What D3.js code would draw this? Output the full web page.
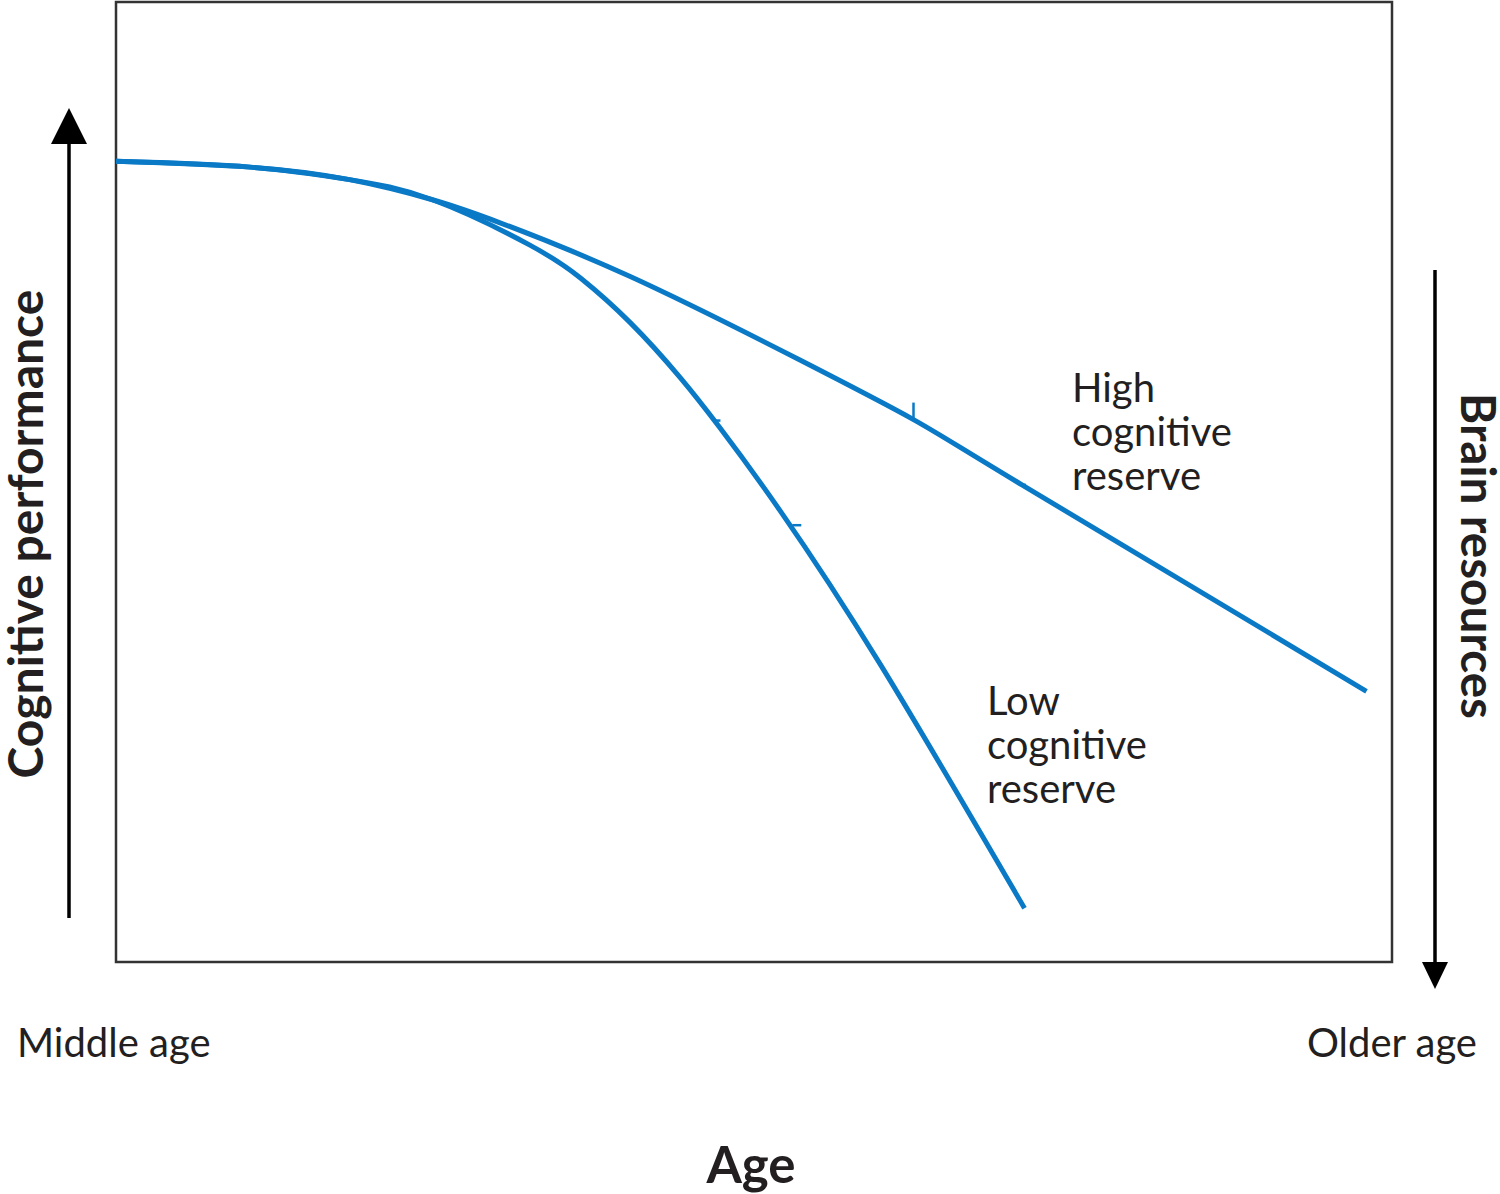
<!DOCTYPE html>
<html><head><meta charset="utf-8">
<script src="https://cdn.jsdelivr.net/npm/d3@7"></script>
<style>html,body{margin:0;padding:0;background:#fff;}svg{display:block;}</style>
</head><body>
<script>
// ---- data (abstract units: age 0..100, performance 0..100) ----
const highAge  = [0, 10.5, 18.3, 24.8, 30.1, 40.3, 53.6, 62.5, 71.0, 98.0];
const highPerf = [83.4, 82.8, 81.5, 79.4, 77.0, 71.4, 62.7, 56.5, 49.7, 28.2];
const lowAge   = [0, 10.5, 18.3, 24.8, 32.4, 36.4, 40.3, 44.2, 47.3, 52.0, 59.9, 71.2];
const lowPerf  = [83.4, 82.8, 81.5, 79.4, 74.7, 71.25, 66.6, 60.9, 55.7, 47.1, 31.0, 5.6];
const highLabel = ["High", "cognitive", "reserve"];
const lowLabel  = ["Low", "cognitive", "reserve"];
const xEndLabels = ["Middle age", "Older age"];
const xTitle = "Age";
const yTitle = "Cognitive performance";
const y2Title = "Brain resources";
// small marks on the curves: [age, perf]
const highMarks = [[62.5, 56.5], [71.0, 49.7]];
const lowMarks  = [[46.9, 56.4], [53.0, 45.5]];

const W = 1500, H = 1194;
const frame = {left: 116, right: 1392, top: 2, bottom: 962};
const blue = "#0a79c6";
const ink = "#231f20";

const svg = d3.select("body").append("svg").attr("width", W).attr("height", H);

const x = d3.scaleLinear().domain([0, 100]).range([frame.left, frame.right]);
const y = d3.scaleLinear().domain([0, 100]).range([frame.bottom, frame.top]);

// frame
svg.append("rect")
  .attr("x", frame.left).attr("y", frame.top)
  .attr("width", frame.right - frame.left).attr("height", frame.bottom - frame.top)
  .attr("fill", "none").attr("stroke", "#333").attr("stroke-width", 2.5);

const line = d3.line().x(d => x(d[0])).y(d => y(d[1])).curve(d3.curveNatural);

const high = highAge.map((a, i) => [a, highPerf[i]]);
const low = lowAge.map((a, i) => [a, lowPerf[i]]);

svg.append("path").datum(low).attr("d", line)
  .attr("fill", "none").attr("stroke", blue).attr("stroke-width", 5);
svg.append("path").datum(high).attr("d", line)
  .attr("fill", "none").attr("stroke", blue).attr("stroke-width", 5);

// tiny marks
svg.append("line").attr("x1", x(highMarks[0][0])).attr("x2", x(highMarks[0][0]))
  .attr("y1", y(highMarks[0][1]) - 17).attr("y2", y(highMarks[0][1]))
  .attr("stroke", blue).attr("stroke-width", 2.5);
svg.append("line").attr("x1", x(highMarks[1][0])).attr("x2", x(highMarks[1][0]) + 4)
  .attr("y1", y(highMarks[1][1])).attr("y2", y(highMarks[1][1]))
  .attr("stroke", blue).attr("stroke-width", 2.5);
lowMarks.forEach((m, i) => {
  svg.append("line").attr("x1", x(m[0])).attr("x2", x(m[0]) + (i === 0 ? 6 : 9))
    .attr("y1", y(m[1])).attr("y2", y(m[1]))
    .attr("stroke", blue).attr("stroke-width", 2.5);
});

// curve labels
const lblFont = "Lato, 'Open Sans', sans-serif";
function multiLabel(lines, lx, ly) {
  const t = svg.append("text").attr("x", lx).attr("y", ly)
    .attr("font-family", lblFont).attr("font-size", 40).attr("fill", ink);
  lines.forEach((s, i) => t.append("tspan").attr("x", lx).attr("dy", i === 0 ? 0 : 44).text(s));
}
multiLabel(highLabel, 1072, 402);
multiLabel(lowLabel, 987, 715);

// end labels
svg.append("text").attr("x", 17).attr("y", 1057).text(xEndLabels[0])
  .attr("font-family", lblFont).attr("font-size", 40).attr("fill", ink);
svg.append("text").attr("x", 1477).attr("y", 1057).attr("text-anchor", "end").text(xEndLabels[1])
  .attr("font-family", lblFont).attr("font-size", 40).attr("fill", ink);

// titles
const bold = "Lato, 'Open Sans', sans-serif";
svg.append("text").attr("x", 751).attr("y", 1183).attr("text-anchor", "middle").text(xTitle)
  .attr("font-family", bold).attr("font-weight", 700).attr("font-size", 51).attr("fill", ink);
svg.append("text").attr("transform", "translate(43,534) rotate(-90)").attr("text-anchor", "middle")
  .text(yTitle).attr("font-family", bold).attr("font-weight", 700).attr("font-size", 48).attr("fill", ink);
svg.append("text").attr("transform", "translate(1461,556) rotate(90)").attr("text-anchor", "middle")
  .text(y2Title).attr("font-family", bold).attr("font-weight", 700).attr("font-size", 47.5).attr("fill", ink);

// arrows
svg.append("line").attr("x1", 69).attr("x2", 69).attr("y1", 918).attr("y2", 140)
  .attr("stroke", "#000").attr("stroke-width", 3.5);
svg.append("path").attr("d", "M69,108 L51,144 L87,144 Z").attr("fill", "#000");
svg.append("line").attr("x1", 1435).attr("x2", 1435).attr("y1", 270).attr("y2", 965)
  .attr("stroke", "#000").attr("stroke-width", 3.5);
svg.append("path").attr("d", "M1422,962 L1448,962 L1435,989 Z").attr("fill", "#000");
</script>
</body></html>
